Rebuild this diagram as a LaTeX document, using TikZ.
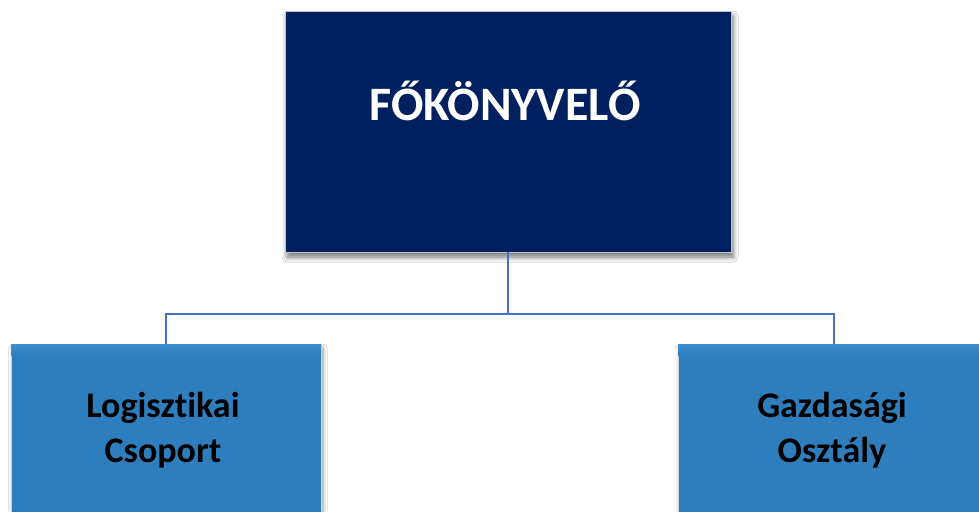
\documentclass[tikz,border=0pt]{standalone}
\usepackage{fontspec}
\setmainfont{Carlito}[Ligatures=CommonOff]
\usetikzlibrary{shadows.blur}
\definecolor{navy}{HTML}{002060}
\definecolor{midblue}{HTML}{2E7EBE}
\definecolor{lightblue}{HTML}{3C8FD0}
\definecolor{linkblue}{HTML}{4472C4}
\tikzset{
  topbox/.style={rectangle, fill=navy, draw=gray!45, line width=0.8pt, inner sep=0pt,
    blur shadow={shadow xshift=2pt, shadow yshift=-5pt, shadow blur steps=6, shadow blur radius=5pt, shadow opacity=55}},
  subbox/.style={rectangle, fill=midblue, draw=gray!35, line width=0.6pt, inner sep=0pt,
    blur shadow={shadow xshift=2pt, shadow yshift=-4pt, shadow blur steps=6, shadow blur radius=4pt, shadow opacity=40}},
  toptext/.style={text=white, font=\bfseries\fontsize{48}{54}\selectfont},
  subtext/.style={text=black, align=center, font=\bfseries\fontsize{36}{45}\selectfont},
  link/.style={draw=linkblue, line width=2.8pt}
}
\begin{document}
\begin{tikzpicture}[x=1pt,y=1pt]
\useasboundingbox (0,0) rectangle (979,-511);
\clip (0,0) rectangle (979,-511);
\fill[white] (0,0) rectangle (979,-511);
% boxes
\node[topbox, minimum width=446pt, minimum height=241pt] (top) at (508,-131.5) {};
\node[subbox, minimum width=310pt, minimum height=240pt] (left) at (166,-464) {};
\node[subbox, minimum width=312pt, minimum height=240pt] (right) at (834,-464) {};
% top highlights on sub boxes
\shade[top color=lightblue, bottom color=midblue] ([xshift=0.3pt,yshift=-0.3pt]left.north west) rectangle ([xshift=-0.3pt,yshift=-12pt]left.north east);
\shade[top color=lightblue, bottom color=midblue] ([xshift=0.3pt,yshift=-0.3pt]right.north west) rectangle ([xshift=-0.3pt,yshift=-12pt]right.north east);
% connectors
\coordinate (bar) at (508,-314);
\draw[link] (top.south) -- (bar);
\draw[link] (left.north) |- (bar) -| (right.north);
% texts
\node[toptext] (toplabel) at (505,-101) {FŐKÖNYVELŐ};
\node[subtext] (lefttext) at (163,-430) {Logisztikai\\Csoport};
\node[subtext] (righttext) at (832,-430) {Gazdasági\\Osztály};
\end{tikzpicture}
\end{document}
